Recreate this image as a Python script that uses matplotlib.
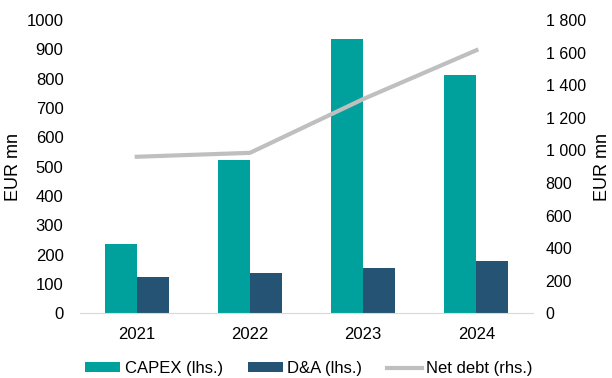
import numpy as np
import matplotlib.pyplot as plt

plt.rcParams['font.family'] = ['Liberation Sans', 'DejaVu Sans']

years = ['2021', '2022', '2023', '2024']
capex = [235, 522, 937, 812]
da = [123, 137, 154, 178]
net_debt = [961, 985, 1315, 1615]

teal = '#00A19C'
navy = '#245373'
grey = '#BFBFBF'

fig = plt.figure(figsize=(6.12, 3.78), dpi=100)
ax = fig.add_axes([0.131, 0.171, 0.74, 0.776])
ax2 = ax.twinx()

x = np.arange(len(years))
w = 0.283
b1 = ax.bar(x - w / 2, capex, w, color=teal, label='CAPEX (lhs.)')
b2 = ax.bar(x + w / 2, da, w, color=navy, label='D&A (lhs.)')
ln, = ax2.plot(x, net_debt, color=grey, lw=3, label='Net debt (rhs.)')

ax.set_xlim(-0.5, 3.5)
ax.set_ylim(0, 1000)
ax.set_yticks(range(0, 1001, 100))
ax2.set_ylim(0, 1800)
ax2.set_yticks(range(0, 1801, 200))
ax2.set_yticklabels([f'{v:,}'.replace(',', ' ') for v in range(0, 1801, 200)])
ax.set_xticks(x)
ax.set_xticklabels(years)

for a in (ax, ax2):
    for s in a.spines.values():
        s.set_visible(False)
    a.tick_params(length=0, labelsize=12, colors='#000000')
ax.spines['bottom'].set_visible(True)
ax.spines['bottom'].set_color('#D9D9D9')
ax.tick_params(axis='x', pad=10)
ax.tick_params(axis='y', pad=12)
ax2.tick_params(axis='y', pad=9, labelsize=11.5)

ax.set_ylabel('EUR mn', fontsize=13)
ax2.set_ylabel('EUR mn', fontsize=13)
ax.yaxis.set_label_coords(-0.128, 0.5)
ax2.yaxis.set_label_coords(1.135, 0.5)

fig.legend([b1, b2, ln], ['CAPEX (lhs.)', 'D&A (lhs.)', 'Net debt (rhs.)'],
           loc='center', bbox_to_anchor=(0.505, 0.025), ncol=3, frameon=False,
           fontsize=12, handlelength=2.1, handleheight=0.5, columnspacing=1.5,
           handletextpad=0.25)

fig.savefig('out.png', dpi=100)
